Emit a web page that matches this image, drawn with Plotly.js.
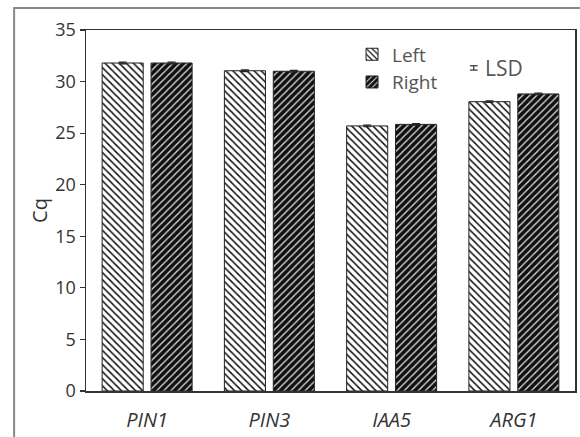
<!DOCTYPE html>
<html><head><meta charset="utf-8">
<script src="https://cdn.plot.ly/plotly-3.0.1.min.js"></script>
<style>html,body{margin:0;padding:0;background:#fff}</style>
</head><body><div id="chart" style="width:580px;height:437px"></div>
<script>
const genes = ["PIN1", "PIN3", "IAA5", "ARG1"];
const geneLabels = ["<i>PIN1</i>", "<i>PIN3</i>", "<i>IAA5</i>", "<i>ARG1</i>"];
const leftCq = [31.8, 31.05, 25.7, 28.05];
const rightCq = [31.8, 31.0, 25.85, 28.8];
const leftErr = [0.08, 0.08, 0.08, 0.08];
const rightErr = [0.08, 0.08, 0.08, 0.08];
const yTicks = [0, 5, 10, 15, 20, 25, 30, 35];

const FONT = "'Open Sans', sans-serif";
const traces = [
  {type: "bar", name: "Left", x: genes, y: leftCq,
   error_y: {type: "data", array: leftErr, visible: true, color: "#222", thickness: 1.2, width: 4},
   marker: {color: "white", line: {color: "#222", width: 1},
            pattern: {shape: "\\", fgcolor: "#111", bgcolor: "white", size: 5, solidity: 0.3}}},
  {type: "bar", name: "Right", x: genes, y: rightCq,
   error_y: {type: "data", array: rightErr, visible: true, color: "#222", thickness: 1.2, width: 4},
   marker: {color: "black", line: {color: "#222", width: 1},
            pattern: {shape: "/", fgcolor: "#dcdcdc", bgcolor: "#111", size: 5, solidity: 0.26}}}
];

const layout = {
  width: 580, height: 437,
  margin: {l: 86, r: 5, t: 30, b: 46},
  paper_bgcolor: "white", plot_bgcolor: "white",
  font: {family: FONT, size: 18, color: "#333"},
  barmode: "group", bargap: 0.2, bargroupgap: 0.16,
  showlegend: true,
  legend: {x: 0.544, y: 0.985, xanchor: "left", yanchor: "top",
           font: {size: 19, color: "#555"}, bgcolor: "rgba(0,0,0,0)",
           tracegroupgap: 0, itemwidth: 30},
  xaxis: {tickmode: "array", tickvals: genes, ticktext: geneLabels,
          showline: true, mirror: true, linecolor: "#333", linewidth: 1.5,
          ticks: "", ticklabelstandoff: 10, tickfont: {size: 20, color: "#333"}, showgrid: false},
  yaxis: {range: [0, 35], tickmode: "array", tickvals: yTicks,
          showline: true, mirror: true, linecolor: "#333", linewidth: 1.5,
          ticks: "outside", ticklen: 5, tickwidth: 1.2, tickcolor: "#333",
          showgrid: false, zeroline: false, tickfont: {size: 18, color: "#333"},
          title: {text: "Cq", font: {size: 20, color: "#333"}, standoff: 2}},
  shapes: [
    {type: "rect", xref: "paper", yref: "paper", x0: -0.147, x1: 1.2, y0: -0.4, y1: 1.061,
     line: {color: "#888", width: 2}, layer: "below"},
    {type: "line", xref: "paper", yref: "paper", x0: 0.793, x1: 0.793, y0: 0.889, y1: 0.901, line: {color: "#333", width: 1.2}},
    {type: "line", xref: "paper", yref: "paper", x0: 0.785, x1: 0.801, y0: 0.889, y1: 0.889, line: {color: "#333", width: 1.2}},
    {type: "line", xref: "paper", yref: "paper", x0: 0.785, x1: 0.801, y0: 0.901, y1: 0.901, line: {color: "#333", width: 1.2}}
  ],
  annotations: [
    {xref: "paper", yref: "paper", x: 0.812, y: 0.895, xanchor: "left", yanchor: "middle",
     text: "LSD", showarrow: false, font: {size: 21, color: "#555"}}
  ]
};
Plotly.newPlot("chart", traces, layout, {displayModeBar: false, staticPlot: true});
</script></body></html>
